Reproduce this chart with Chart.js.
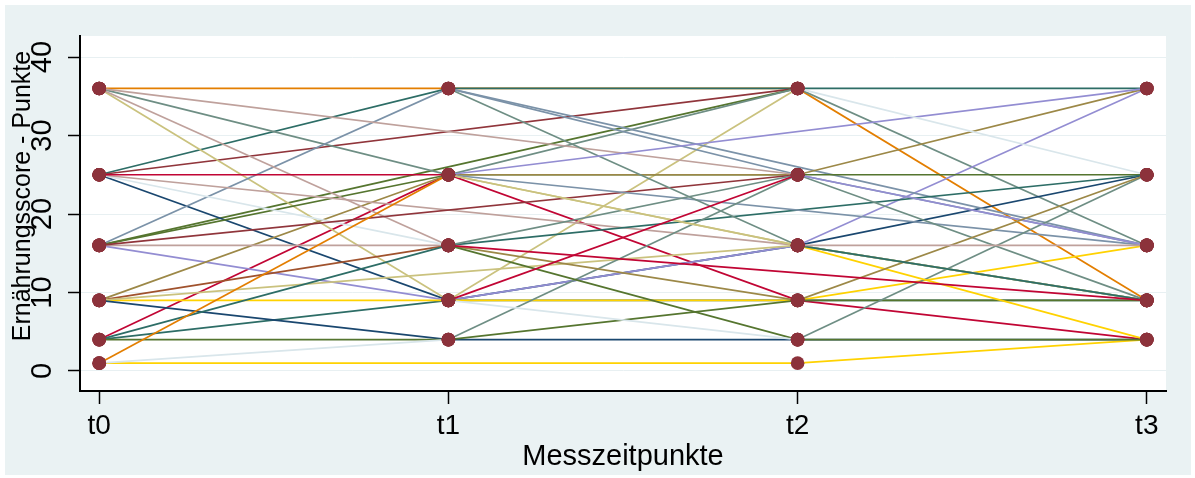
<!DOCTYPE html>
<html>
<head>
<meta charset="utf-8">
<title>Ernährungsscore</title>
<script src="https://cdn.jsdelivr.net/npm/chart.js@4"></script>
<style>
  html, body { margin: 0; padding: 0; background: #ffffff; }
  #wrap { width: 1195px; height: 478px; }
</style>
</head>
<body>
<div id="wrap"><canvas id="c" width="1195" height="478"></canvas></div>
<script>
// Messzeitpunkte (x axis categories)
const timepoints = ['t0', 't1', 't2', 't3'];
const yTicks = [0, 10, 20, 30, 40];

// Ernährungsscore per Proband at t0..t3 (null = fehlender Wert)
const p01 = [36, 36, 36, 9];
const p02 = [25, 36, 36, 36];
const p03 = [25, null, 36, null];
const p04 = [16, null, 36, null];
const p05 = [36, 25, 36, 16];
const p06 = [25, 9, 16, 25];
const p07 = [4, 25, 9, 4];
const p08 = [16, 9, 16, 36];
const p09 = [36, 9, 36, null];
const p10 = [9, 16, null, null];
const p11 = [16, 36, null, 16];
const p12 = [null, 36, 25, 16];
const p13 = [4, 9, 9, 9];
const p14 = [16, 25, 25, 25];
const p15 = [9, 25, 25, 36];
const p16 = [16, 16, null, null];
const p17 = [36, 16, null, null];
const p18 = [9, 9, 9, 16];
const p19 = [25, 16, null, null];
const p20 = [36, null, 25, null];
const p21 = [25, null, 16, null];
const p22 = [16, null, 25, null];
const p23 = [9, null, 16, 9];
const p24 = [9, 4, 4, 4];
const p25 = [25, 25, null, null];
const p26 = [4, 16, null, 25];
const p27 = [4, 4, 9, 9];
const p28 = [1, 25, null, null];
const p29 = [1, null, 1, 4];
const p30 = [1, 4, null, null];
const p31 = [null, 25, null, 16];
const p32 = [null, 36, 16, 9];
const p33 = [null, 16, 25, 9];
const p34 = [null, 4, 25, null];
const p35 = [null, null, 4, 25];
const p36 = [null, 25, null, 36];
const p37 = [null, null, 25, 16];
const p38 = [null, 25, 16, 9];
const p39 = [null, 25, 16, null];
const p40 = [null, null, 16, 4];
const p41 = [null, 16, 9, 25];
const p42 = [null, 16, 4, 4];
const p43 = [null, 9, 4, null];
const p44 = [null, null, 36, 25];
const p45 = [null, null, 16, 9];
const p46 = [null, 16, null, 9];
const p47 = [null, 9, 25, null];
const p48 = [null, null, 16, 16];

const subjects = [p01, p02, p03, p04, p05, p06, p07, p08, p09, p10, p11, p12,
  p13, p14, p15, p16, p17, p18, p19, p20, p21, p22, p23, p24, p25, p26, p27,
  p28, p29, p30, p31, p32, p33, p34, p35, p36, p37, p38, p39, p40, p41, p42,
  p43, p44, p45, p46, p47, p48];

// line colours (s2color palette)
const C = {
  navy: '#1a476f', maroon: '#90353b', forest: '#55752f', dkorange: '#e37e00',
  teal: '#6e8e84', cranberry: '#c10534', lavender: '#938dd2', khaki: '#cac27e',
  sienna: '#a0522d', emidblue: '#7b92a8', emerald: '#2d6d66', brown: '#9c8847',
  erose: '#bfa19c', gold: '#ffd200', bluishgray: '#d9e6eb'
};
const lineColors = [
  C.dkorange, C.emerald, C.maroon, C.forest, C.teal, C.navy, C.cranberry,
  C.lavender, C.khaki, C.sienna, C.emidblue, C.emidblue, C.emerald, C.forest,
  C.brown, C.erose, C.erose, C.gold, C.bluishgray, C.erose, C.erose, C.maroon,
  C.khaki, C.navy, C.cranberry, C.emerald, C.forest, C.dkorange, C.gold,
  C.bluishgray, C.emidblue, C.teal, C.teal, C.teal, C.teal, C.lavender,
  C.lavender, C.khaki, C.khaki, C.gold, C.brown, C.forest, C.bluishgray,
  C.bluishgray, C.emerald, C.cranberry, C.cranberry, C.erose
];

const FONT = '"Liberation Sans", Arial, Helvetica, sans-serif';

const lineSets = subjects.map((vals, i) => ({
  type: 'line',
  data: vals.map((v, t) => ({ x: t, y: v })),
  borderColor: lineColors[i],
  borderWidth: 1.7,
  pointRadius: 0,
  spanGaps: true,
  tension: 0,
  order: -i
}));

const markerPoints = [];
subjects.forEach(vals => vals.forEach((v, t) => {
  if (v !== null) markerPoints.push({ x: t, y: v });
}));

const markerSet = {
  type: 'scatter',
  data: markerPoints,
  pointRadius: 6.8,
  pointHoverRadius: 6.8,
  pointBackgroundColor: '#8c323b',
  pointBorderWidth: 0,
  showLine: false,
  order: -1000
};

const backdrop = {
  id: 'backdrop',
  beforeDraw(chart) {
    const { ctx, chartArea: a } = chart;
    ctx.save();
    ctx.fillStyle = '#ffffff';
    ctx.fillRect(0, 0, chart.width, chart.height);
    ctx.fillStyle = '#eaf2f3';
    ctx.fillRect(5, 5, 1186, 470);
    ctx.fillStyle = '#ffffff';
    ctx.fillRect(a.left, a.top, a.right - a.left, a.bottom - a.top);
    ctx.restore();
  },
  afterDraw(chart) {
    const { ctx } = chart;
    ctx.save();
    ctx.translate(23, 196);
    ctx.rotate(-Math.PI / 2);
    ctx.font = '25px ' + FONT;
    ctx.fillStyle = '#000000';
    ctx.textAlign = 'center';
    ctx.textBaseline = 'middle';
    ctx.fillText('Ernährungsscore - Punkte', 0, 0);
    ctx.restore();
  }
};

new Chart(document.getElementById('c'), {
  data: { datasets: [markerSet, ...lineSets] },
  options: {
    responsive: false,
    devicePixelRatio: 1,
    animation: false,
    events: [],
    layout: { padding: { top: 36, right: 29, left: 0, bottom: 0 } },
    plugins: { legend: { display: false }, tooltip: { enabled: false } },
    scales: {
      x: {
        type: 'linear',
        min: -0.055,
        max: 3.055,
        afterBuildTicks: s => { s.ticks = timepoints.map((_, i) => ({ value: i })); },
        afterFit: s => { s.height = 87; },
        ticks: {
          callback: v => timepoints[v],
          font: { family: FONT, size: 28 },
          color: '#000000',
          padding: 5,
          maxRotation: 0,
          minRotation: 0
        },
        grid: { drawOnChartArea: false, drawTicks: true, tickLength: 13, tickColor: '#000000', tickWidth: 1.5 },
        border: { display: true, color: '#000000', width: 2 },
        title: {
          display: true,
          text: 'Messzeitpunkte',
          color: '#000000',
          font: { family: FONT, size: 29 },
          padding: { top: 0, bottom: 4 }
        }
      },
      y: {
        type: 'linear',
        min: -2.55,
        max: 42.68,
        afterBuildTicks: s => { s.ticks = yTicks.map(v => ({ value: v })); },
        afterFit: s => { s.width = 80; },
        ticks: {
          font: { family: FONT, size: 29 },
          color: '#000000',
          minRotation: 90,
          maxRotation: 90,
          crossAlign: 'center',
          padding: 9
        },
        grid: { color: '#e8f0f2', lineWidth: 1, tickLength: 12, tickColor: '#000000', tickWidth: 1.5 },
        border: { display: true, color: '#000000', width: 2 }
      }
    }
  },
  plugins: [backdrop]
});
</script>
</body>
</html>
